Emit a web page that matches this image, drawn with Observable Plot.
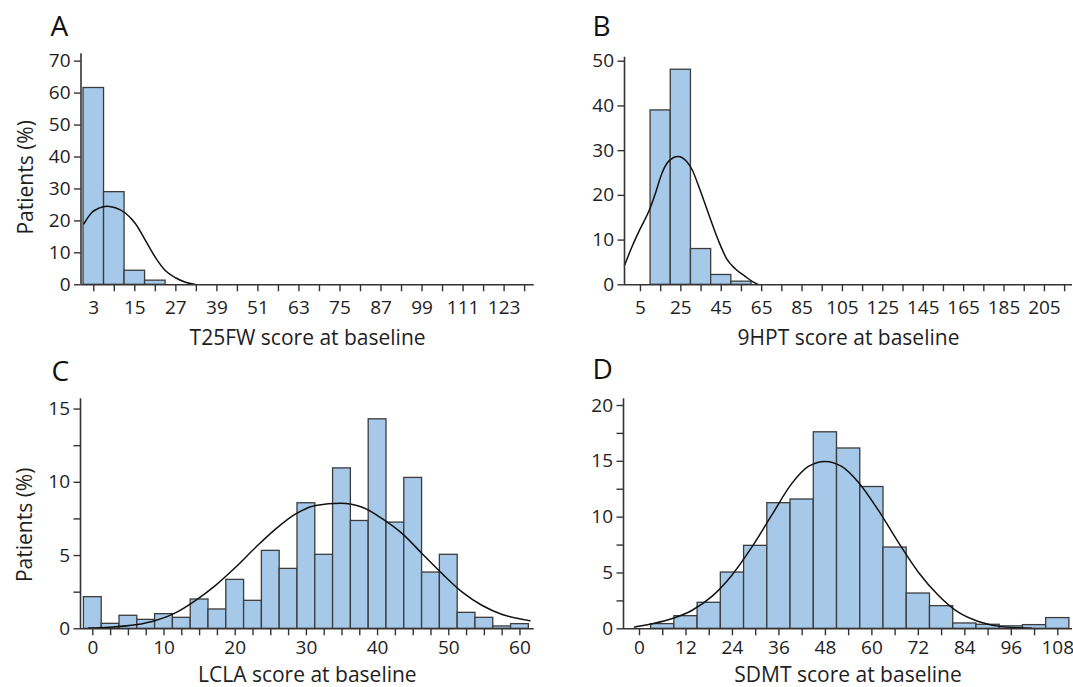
<!DOCTYPE html>
<html><head><meta charset="utf-8">
<script src="https://cdn.jsdelivr.net/npm/d3@7"></script>
<script src="https://cdn.jsdelivr.net/npm/@observablehq/plot@0.6"></script>
<style>
html,body{margin:0;padding:0;background:#fff;}
#wrap{position:relative;width:1073px;height:687px;overflow:hidden;font-family:"Open Sans",sans-serif;}
.panel{position:absolute;}
</style></head><body><div id="wrap"></div>
<script>
// ---------- DATA ----------
const panelLetters = ["A", "B", "C", "D"];
const xTitles = ["T25FW score at baseline", "9HPT score at baseline", "LCLA score at baseline", "SDMT score at baseline"];
const yTitle = "Patients (%)";

// Panel A: T25FW
const aBinCenters = [3, 9, 15, 21];
const aBinWidth = 6;
const aPercent = [61.6, 29.0, 4.4, 1.3];
const aCurveX = [0.1, 2.5, 4.5, 6.9, 9.3, 12.3, 15.2, 18.1, 21.0, 23.9, 26.9, 29.8, 32.7];
const aCurveY = [19.1, 22.7, 24.0, 24.6, 24.1, 22.4, 19.1, 13.9, 8.6, 4.5, 2.2, 0.8, 0.1];
const aXTicks = [3, 9, 15, 21, 27, 33, 39, 45, 51, 57, 63, 69, 75, 81, 87, 93, 99, 105, 111, 117, 123, 129];
const aXLabels = [3, 15, 27, 39, 51, 63, 75, 87, 99, 111, 123];
const aYTicks = [0, 10, 20, 30, 40, 50, 60, 70];
const aYLabels = [0, 10, 20, 30, 40, 50, 60, 70];

// Panel B: 9HPT
const bBinCenters = [15, 25, 35, 45, 55];
const bBinWidth = 10;
const bPercent = [39.0, 48.1, 8.0, 2.2, 0.7];
const bCurveX = [-2.9, 0.7, 4.85, 9.3, 12.3, 15.5, 18.9, 23.5, 27.9, 30.4, 34.6, 38.7, 43.6, 47.7, 51.9, 56.8, 60.9, 63.4];
const bCurveY = [4.3, 8.4, 12.5, 16.6, 20.3, 24.8, 27.6, 28.7, 27.6, 25.9, 21.1, 15.9, 9.9, 5.8, 3.6, 1.9, 0.6, 0.05];
const bXTicks = [5, 15, 25, 35, 45, 55, 65, 75, 85, 95, 105, 115, 125, 135, 145, 155, 165, 175, 185, 195, 205, 215];
const bXLabels = [5, 25, 45, 65, 85, 105, 125, 145, 165, 185, 205];
const bYTicks = [0, 10, 20, 30, 40, 50];
const bYLabels = [0, 10, 20, 30, 40, 50];

// Panel C: LCLA
const cBinCenters = [0, 2.5, 5, 7.5, 10, 12.5, 15, 17.5, 20, 22.5, 25, 27.5, 30, 32.5, 35, 37.5, 40, 42.5, 45, 47.5, 50, 52.5, 55, 57.5, 60];
const cBinWidth = 2.5;
const cPercent = [2.16, 0.34, 0.89, 0.61, 1.0, 0.75, 2.0, 1.32, 3.34, 1.91, 5.32, 4.09, 8.57, 5.05, 10.95, 7.36, 14.3, 7.25, 10.3, 3.84, 5.05, 1.09, 0.75, 0.16, 0.32];
const cCurveX = [-0.6, 2.25, 6.0, 8.8, 11.6, 14.4, 17.2, 20.05, 22.9, 25.7, 28.5, 31.3, 34.8, 37.85, 40.7, 43.5, 46.3, 49.1, 51.9, 54.7, 57.5, 60.8, 61.4];
const cCurveY = [0.05, 0.11, 0.27, 0.57, 1.09, 1.93, 2.95, 4.2, 5.57, 6.82, 7.84, 8.41, 8.57, 8.3, 7.5, 6.48, 5.11, 3.75, 2.5, 1.59, 0.98, 0.61, 0.55];
const cXTicks = [0, 2.5, 5, 7.5, 10, 12.5, 15, 17.5, 20, 22.5, 25, 27.5, 30, 32.5, 35, 37.5, 40, 42.5, 45, 47.5, 50, 52.5, 55, 57.5, 60];
const cXLabels = [0, 10, 20, 30, 40, 50, 60];
const cYTicks = [0, 2.5, 5, 7.5, 10, 12.5, 15];
const cYLabels = [0, 5, 10, 15];

// Panel D: SDMT
const dBinCenters = [6, 12, 18, 24, 30, 36, 42, 48, 54, 60, 66, 72, 78, 84, 90, 96, 102, 108];
const dBinWidth = 6;
const dPercent = [0.42, 1.13, 2.33, 5.04, 7.43, 11.25, 11.58, 17.6, 16.15, 12.7, 7.28, 3.16, 2.03, 0.48, 0.36, 0.22, 0.33, 0.96];
const dCurveX = [-1.3, 3.2, 8.3, 13.5, 18.7, 23.8, 29.0, 34.1, 39.3, 43.6, 47.9, 52.2, 56.5, 61.7, 66.8, 72.0, 77.2, 82.3, 87.5, 92.6, 97.8, 101.2];
const dCurveY = [0.15, 0.45, 0.9, 1.64, 2.9, 4.78, 7.31, 10.15, 13.0, 14.54, 14.99, 14.54, 13.13, 10.6, 7.76, 5.07, 2.99, 1.49, 0.66, 0.24, 0.09, 0.06];
const dXTicks = [0, 6, 12, 18, 24, 30, 36, 42, 48, 54, 60, 66, 72, 78, 84, 90, 96, 102, 108];
const dXLabels = [0, 12, 24, 36, 48, 60, 72, 84, 96, 108];
const dYTicks = [0, 2.5, 5, 7.5, 10, 12.5, 15, 17.5, 20];
const dYLabels = [0, 5, 10, 15, 20];

// ---------- RENDER ----------
const FILL = "#a6c8e9";
const EDGE = "#3c3c3c";
const INK = "#1e1e1e";

function panel(cfg) {
  const bins = cfg.centers.map((c, i) => ({x1: c - cfg.binW / 2, x2: c + cfg.binW / 2, y: cfg.values[i]}));
  const curve = cfg.cx.map((x, i) => ({x, y: cfg.cy[i]}));
  const marks = [
    Plot.rectY(bins, {x1: "x1", x2: "x2", y1: 0, y2: "y", fill: FILL, stroke: EDGE, strokeWidth: 1.3}),
    Plot.line(curve, {x: "x", y: "y", curve: "monotone-x", stroke: "#111", strokeWidth: 1.5}),
    Plot.ruleY([0], {stroke: "#333", strokeWidth: 1.6}),
    Plot.ruleX([cfg.xDomain[0]], {y1: 0, y2: cfg.yMax, stroke: "#333", strokeWidth: 1.6}),
    Plot.axisX(cfg.xTicks, {label: null, tickSize: 7, tickPadding: cfg.tpad, fontSize: 19, strokeWidth: 1.4, stroke: "#333", fill: INK,
      tickFormat: d => cfg.xLabels.includes(d) ? String(d) : ""}),
    Plot.axisY(cfg.yTicks, {label: null, tickSize: 6.5, tickPadding: 4, fontSize: 19, strokeWidth: 1.4, stroke: "#333", fill: INK,
      tickFormat: d => cfg.yLabels.includes(d) ? String(d) : ""}),
    Plot.text([cfg.letter], {frameAnchor: "top-left", textAnchor: "start", lineAnchor: "top", dx: cfg.ldx, dy: cfg.ldy, fontSize: 28, fill: "#111"}),
    Plot.text([cfg.xTitle], {frameAnchor: "bottom", textAnchor: "middle", lineAnchor: "top", dy: cfg.tdy, fontSize: 21, fill: INK})
  ];
  if (cfg.yTitle) {
    marks.push(Plot.text([cfg.yTitle], {frameAnchor: "left", textAnchor: "middle", lineAnchor: "middle", rotate: -90, dx: -55, dy: cfg.ydy, fontSize: 21, fill: INK}));
  }
  const svg = Plot.plot({
    width: cfg.width, height: cfg.height,
    marginLeft: cfg.mL, marginRight: cfg.mR, marginTop: cfg.mT, marginBottom: cfg.mB,
    x: {domain: cfg.xDomain},
    y: {domain: [0, cfg.yMax]},
    style: {fontFamily: "'Open Sans', sans-serif", color: INK, background: "transparent", overflow: "visible"},
    marks
  });
  const div = document.createElement("div");
  div.className = "panel";
  div.style.left = cfg.left + "px";
  div.style.top = cfg.top + "px";
  div.appendChild(svg);
  document.getElementById("wrap").appendChild(div);
}

panel({left: 0, top: 0, width: 537, height: 345, mL: 80.5, mR: 3.3, mT: 53.3, mB: 60.7,
  xDomain: [-0.74, 131.8], yMax: 72.3, centers: aBinCenters, binW: aBinWidth, values: aPercent,
  cx: aCurveX, cy: aCurveY, xTicks: aXTicks, xLabels: aXLabels, yTicks: aYTicks, yLabels: aYLabels,
  letter: panelLetters[0], ldx: -30.5, ldy: -37.5, xTitle: xTitles[0], tdy: 45, tpad: 9, yTitle, ydy: 8});

panel({left: 536, top: 0, width: 537, height: 345, mL: 88, mR: 1, mT: 56.7, mB: 60.7,
  xDomain: [-2.9, 218.9], yMax: 50.9, centers: bBinCenters, binW: bBinWidth, values: bPercent,
  cx: bCurveX, cy: bCurveY, xTicks: bXTicks, xLabels: bXLabels, yTicks: bYTicks, yLabels: bYLabels,
  letter: panelLetters[1], ldx: -32, ldy: -41, xTitle: xTitles[1], tdy: 45, tpad: 9, yTitle: null});

panel({left: 0, top: 345, width: 537, height: 342, mL: 80, mR: 3.3, mT: 53.3, mB: 58.7,
  xDomain: [-1.73, 62.0], yMax: 15.7, centers: cBinCenters, binW: cBinWidth, values: cPercent,
  cx: cCurveX, cy: cCurveY, xTicks: cXTicks, xLabels: cXLabels, yTicks: cYTicks, yLabels: cYLabels,
  letter: panelLetters[2], ldx: -29, ldy: -38, xTitle: xTitles[2], tdy: 38.2, tpad: 4.5, yTitle, ydy: 11});

panel({left: 536, top: 345, width: 537, height: 342, mL: 87, mR: 1, mT: 53.3, mB: 58.7,
  xDomain: [-4.13, 111.8], yMax: 20.6, centers: dBinCenters, binW: dBinWidth, values: dPercent,
  cx: dCurveX, cy: dCurveY, xTicks: dXTicks, xLabels: dXLabels, yTicks: dYTicks, yLabels: dYLabels,
  letter: panelLetters[3], ldx: -31, ldy: -39.5, xTitle: xTitles[3], tdy: 38.2, tpad: 4.5, yTitle: null});
</script></body></html>
